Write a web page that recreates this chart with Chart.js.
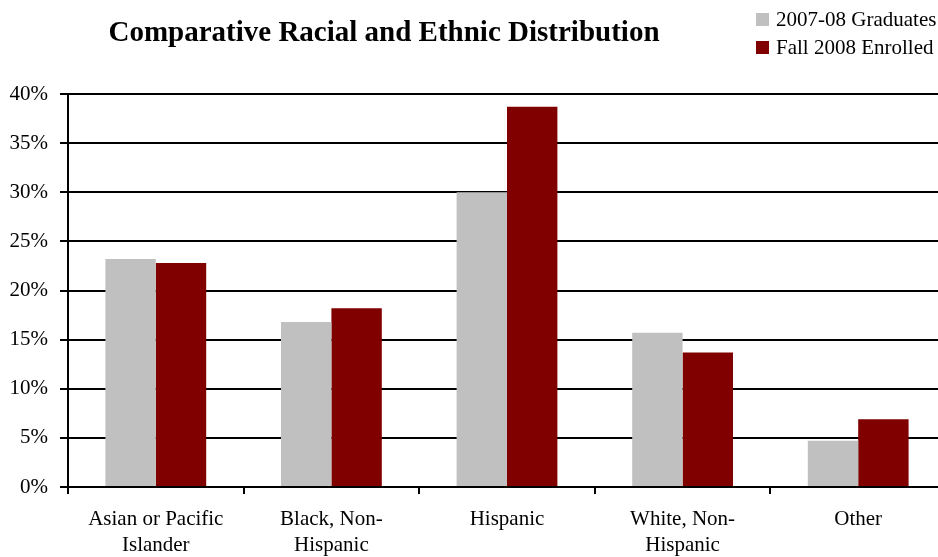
<!DOCTYPE html>
<html>
<head>
<meta charset="utf-8">
<script src="https://cdn.jsdelivr.net/npm/chart.js@4.4.1/dist/chart.umd.min.js"></script>
<style>
  html, body { margin: 0; padding: 0; background: #fff; overflow: hidden; }
  .wrap { width: 938px; height: 557px; overflow: hidden; }
</style>
</head>
<body>
<div class="wrap">
  <canvas id="chart" width="946" height="557"></canvas>
</div>
<script>
// data
const categories = [
  ['Asian or Pacific', 'Islander'],
  ['Black, Non-', 'Hispanic'],
  'Hispanic',
  ['White, Non-', 'Hispanic'],
  'Other'
];
const graduates = [23.2, 16.8, 30.0, 15.7, 4.7];
const enrolled = [22.8, 18.2, 38.7, 13.7, 6.9];
const seriesNames = ['2007-08 Graduates', 'Fall 2008 Enrolled'];
const seriesColors = ['#C0C0C0', '#800000'];
const yTicks = [0, 5, 10, 15, 20, 25, 30, 35, 40];
const chartTitle = 'Comparative Racial and Ethnic Distribution';

const serif = "'Liberation Serif', 'Times New Roman', serif";

// title + stacked legend in the top strip
const headerPlugin = {
  id: 'header',
  afterDraw(chart) {
    const ctx = chart.ctx;
    ctx.save();
    ctx.fillStyle = '#000';
    ctx.font = 'bold 29px ' + serif;
    ctx.textAlign = 'center';
    ctx.textBaseline = 'middle';
    ctx.fillText(chartTitle, 384, 34);

    ctx.font = '21px ' + serif;
    ctx.textAlign = 'left';
    chart.data.datasets.forEach((ds, i) => {
      const y = 20 + i * 28;
      ctx.fillStyle = ds.backgroundColor;
      ctx.fillRect(756, y - 7, 13, 13);
      ctx.fillStyle = '#000';
      ctx.fillText(ds.label, 776, y);
    });
    ctx.restore();
  }
};

new Chart(document.getElementById('chart'), {
  type: 'bar',
  data: {
    labels: categories,
    datasets: [
      { label: seriesNames[0], data: graduates, backgroundColor: seriesColors[0] },
      { label: seriesNames[1], data: enrolled, backgroundColor: seriesColors[1] }
    ]
  },
  options: {
    responsive: false,
    devicePixelRatio: 1,
    animation: false,
    layout: { padding: { top: 94, right: 0, bottom: 0, left: 0 } },
    datasets: {
      bar: { categoryPercentage: 0.574, barPercentage: 1.0, borderWidth: 0 }
    },
    plugins: {
      legend: { display: false },
      title: { display: false },
      tooltip: { enabled: false }
    },
    scales: {
      x: {
        grid: {
          display: true,
          drawOnChartArea: false,
          drawTicks: true,
          tickLength: 7,
          offset: true,
          color: '#000',
          lineWidth: 2
        },
        border: { color: '#000', width: 2 },
        ticks: {
          color: '#000',
          font: { family: serif, size: 21, lineHeight: 1.24 },
          padding: 12,
          maxRotation: 0,
          autoSkip: false
        },
        afterFit(scale) { scale.height = 70; }
      },
      y: {
        min: 0,
        max: 40,
        afterBuildTicks(scale) {
          scale.ticks = yTicks.map(v => ({ value: v }));
        },
        grid: {
          color: '#000',
          lineWidth: 2,
          drawTicks: true,
          tickLength: 8
        },
        border: { color: '#000', width: 2 },
        ticks: {
          color: '#000',
          font: { family: serif, size: 21 },
          padding: 12,
          callback: v => v + '%'
        },
        afterFit(scale) { scale.width = 68; }
      }
    }
  },
  plugins: [headerPlugin]
});
</script>
</body>
</html>
